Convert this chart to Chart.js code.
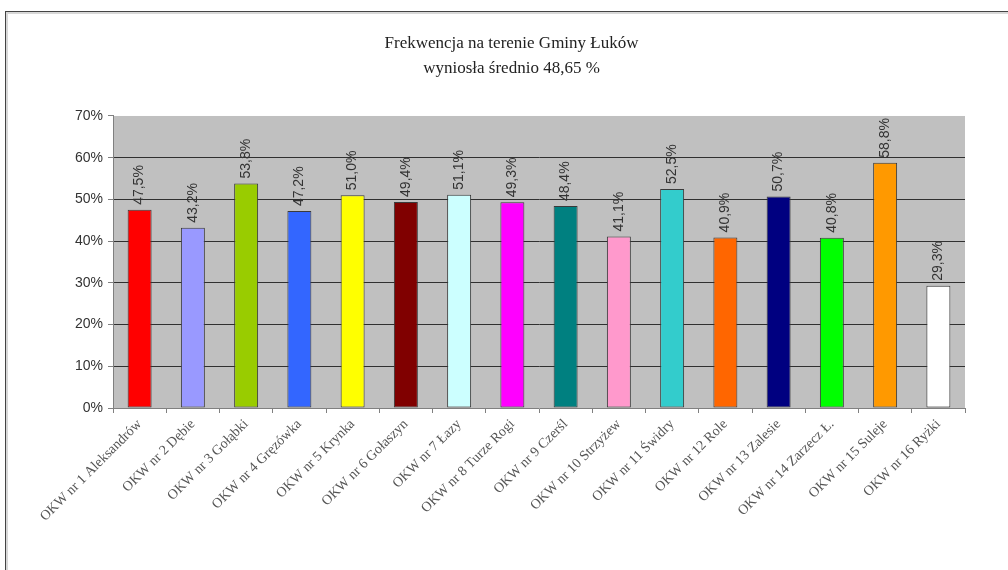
<!DOCTYPE html>
<html>
<head>
<meta charset="utf-8">
<script src="https://cdn.jsdelivr.net/npm/chart.js@4.4.1/dist/chart.umd.min.js"></script>
<style>
  html, body { margin: 0; padding: 0; background: #ffffff; }
  #wrap { position: relative; width: 1008px; height: 570px; overflow: hidden; }
  #frame { position: absolute; left: 5px; top: 11px; width: 1040px; height: 620px;
           border: 1px solid #444; box-shadow: inset 3px 3px 0 -1px #d8d8d8, 2px 2px 2px #bbb; }
  canvas { position: absolute; left: 0; top: 0; }
</style>
</head>
<body>
<div id="wrap">
  <div id="frame"></div>
  <canvas id="c" width="1008" height="570"></canvas>
</div>
<script>
const titleLines = ['Frekwencja na terenie Gminy Łuków', 'wyniosła średnio 48,65 %'];
const categories = [
  'OKW nr 1 Aleksandrów', 'OKW nr 2 Dębie', 'OKW nr 3 Gołąbki', 'OKW nr 4 Gręzówka',
  'OKW nr 5 Krynka', 'OKW nr 6 Gołaszyn', 'OKW nr 7 Łazy', 'OKW nr 8 Turze Rogi',
  'OKW nr 9 Czerśl', 'OKW nr 10 Strzyżew', 'OKW nr 11 Świdry', 'OKW nr 12 Role',
  'OKW nr 13 Zalesie', 'OKW nr 14 Zarzecz Ł.', 'OKW nr 15 Suleje', 'OKW nr 16 Ryżki'
];
const turnout = [47.5, 43.2, 53.8, 47.2, 51.0, 49.4, 51.1, 49.3, 48.4, 41.1, 52.5, 40.9, 50.7, 40.8, 58.8, 29.3];
const barColors = [
  '#FF0000', '#9999FF', '#99CC00', '#3366FF', '#FFFF00', '#800000', '#CCFFFF', '#FF00FF',
  '#008080', '#FF99CC', '#33CCCC', '#FF6600', '#000080', '#00FF00', '#FF9900', '#FFFFFF'
];
const yTicks = [0, 10, 20, 30, 40, 50, 60, 70];

const plotBg = {
  id: 'plotBg',
  beforeDraw(chart) {
    const a = chart.chartArea, ctx = chart.ctx;
    ctx.save();
    ctx.fillStyle = '#c0c0c0';
    ctx.fillRect(a.left, a.top, a.right - a.left, a.bottom - a.top);
    ctx.restore();
  }
};
const valueLabels = {
  id: 'valueLabels',
  afterDatasetsDraw(chart) {
    const ctx = chart.ctx;
    const meta = chart.getDatasetMeta(0);
    ctx.save();
    ctx.fillStyle = '#333333';
    ctx.font = '14px "Liberation Sans", Arial, sans-serif';
    ctx.textAlign = 'left';
    ctx.textBaseline = 'middle';
    meta.data.forEach((bar, i) => {
      const txt = turnout[i].toFixed(1).replace('.', ',') + '%';
      ctx.save();
      ctx.translate(bar.x, bar.y - 5);
      ctx.rotate(-Math.PI / 2);
      ctx.fillText(txt, 0, 0);
      ctx.restore();
    });
    ctx.restore();
  }
};

new Chart(document.getElementById('c'), {
  type: 'bar',
  data: {
    labels: categories,
    datasets: [{
      data: turnout,
      backgroundColor: barColors,
      borderColor: '#3a3a3a',
      borderWidth: 1,
      borderSkipped: false,
      barPercentage: 0.9,
      categoryPercentage: 0.5
    }]
  },
  options: {
    responsive: false,
    animation: false,
    devicePixelRatio: 1,
    layout: { padding: { left: 58, right: 43, top: 0, bottom: 0 } },
    plugins: {
      legend: { display: false },
      tooltip: { enabled: false },
      title: {
        display: true,
        text: titleLines,
        color: '#222222',
        font: { family: '"Liberation Serif", "Times New Roman", serif', size: 17, weight: 'normal', lineHeight: 1.47 },
        padding: { top: 31, bottom: 35 }
      }
    },
    scales: {
      x: {
        offset: true,
        grid: { display: true, drawOnChartArea: false, offset: true, tickLength: 5, tickColor: '#808080' },
        border: { color: '#808080', width: 1 },
        ticks: {
          autoSkip: false,
          maxRotation: 45, minRotation: 45,
          color: '#555555',
          padding: 3,
          font: { family: '"Liberation Serif", "Times New Roman", serif', size: 14 }
        },
        afterFit(scale) { scale.height = 162; }
      },
      y: {
        min: 0, max: 70,
        afterBuildTicks(scale) { scale.ticks = yTicks.map(v => ({ value: v })); },
        grid: {
          color: (ctx) => (ctx.tick && (ctx.tick.value === 70 || ctx.tick.value === 0)) ? 'rgba(0,0,0,0)' : '#303030',
          tickColor: '#808080',
          tickLength: 5
        },
        border: { color: '#808080', width: 1 },
        ticks: {
          color: '#333333',
          padding: 5,
          font: { family: '"Liberation Sans", Arial, sans-serif', size: 14 },
          callback: (v) => v + '%'
        },
        afterFit(scale) { scale.width = 55; }
      }
    }
  },
  plugins: [plotBg, valueLabels]
});
</script>
</body>
</html>
